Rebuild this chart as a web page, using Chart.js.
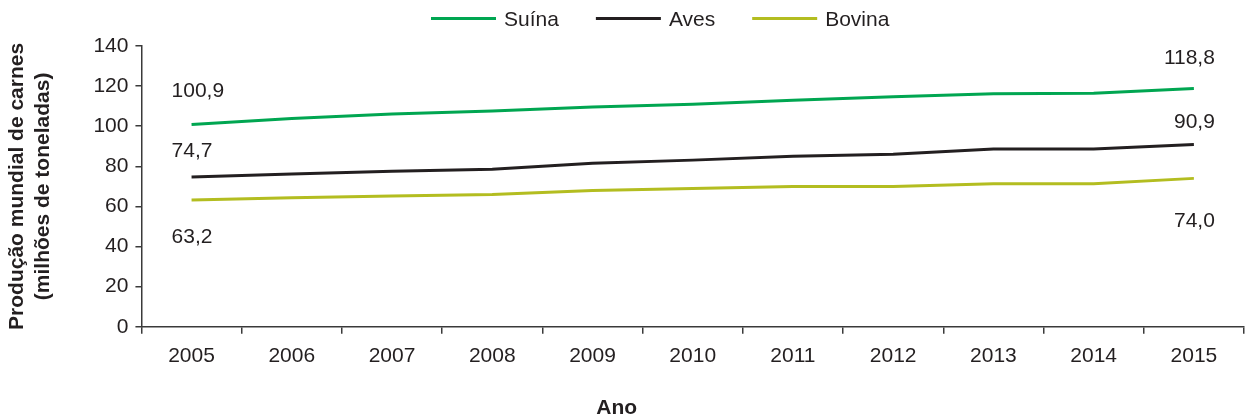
<!DOCTYPE html>
<html>
<head>
<meta charset="utf-8">
<script src="https://cdn.jsdelivr.net/npm/chart.js@4.4.1/dist/chart.umd.min.js"></script>
<style>
  html, body { margin: 0; padding: 0; background: #fff; }
  #wrap { width: 1246px; height: 418px; position: relative; }
</style>
</head>
<body>
<div id="wrap"><canvas id="chart"></canvas></div>
<script>
const anos = ['2005', '2006', '2007', '2008', '2009', '2010', '2011', '2012', '2013', '2014', '2015'];
const suina = [100.9, 103.9, 106.1, 107.6, 109.6, 110.9, 112.9, 114.7, 116.2, 116.4, 118.8];
const aves = [74.7, 76.2, 77.5, 78.5, 81.6, 83.1, 85.0, 86.0, 88.6, 88.6, 90.9];
const bovina = [63.2, 64.3, 65.2, 66.0, 68.0, 69.0, 70.0, 70.0, 71.3, 71.3, 74.0];
const yTicks = [0, 20, 40, 60, 80, 100, 120, 140];

const FONT = '"Liberation Sans", Arial, Helvetica, sans-serif';
const TXT = '#231f20';
const AXIS = '#3a3a3a';

// rótulos no primeiro e último ponto de cada série
const endLabels = {
  id: 'endLabels',
  afterDatasetsDraw(chart, args, opts) {
    const ctx = chart.ctx;
    ctx.save();
    ctx.font = '21px ' + FONT;
    ctx.fillStyle = TXT;
    ctx.textBaseline = 'middle';
    chart.data.datasets.forEach((ds, i) => {
      const pts = chart.getDatasetMeta(i).data;
      const fmt = v => v.toFixed(1).replace('.', ',');
      const first = pts[0], last = pts[pts.length - 1];
      ctx.textAlign = 'left';
      ctx.fillText(fmt(ds.data[0]), first.x + opts.dxFirst, first.y + opts.dyFirst[i]);
      ctx.textAlign = 'right';
      ctx.fillText(fmt(ds.data[ds.data.length - 1]), last.x + opts.dxLast, last.y + opts.dyLast[i]);
    });
    ctx.restore();
  }
};

// legenda desenhada à mão (espaçamento como no original)
const lineLegend = {
  id: 'lineLegend',
  afterDraw(chart, args, opts) {
    const ctx = chart.ctx;
    ctx.save();
    ctx.font = '21px ' + FONT;
    ctx.textBaseline = 'middle';
    ctx.textAlign = 'left';
    let x = opts.x;
    chart.data.datasets.forEach(ds => {
      ctx.strokeStyle = ds.borderColor;
      ctx.lineWidth = 3;
      ctx.beginPath();
      ctx.moveTo(x, opts.y - 1.5);
      ctx.lineTo(x + opts.lineLength, opts.y - 1.5);
      ctx.stroke();
      x += opts.lineLength + opts.gap;
      ctx.fillStyle = TXT;
      ctx.fillText(ds.label, x, opts.y);
      x += ctx.measureText(ds.label).width + opts.spacing;
    });
    ctx.restore();
  }
};

const xTitle = {
  id: 'xTitle',
  afterDraw(chart, args, opts) {
    const ctx = chart.ctx;
    const sx = chart.scales.x;
    ctx.save();
    ctx.font = 'bold 21px ' + FONT;
    ctx.fillStyle = TXT;
    ctx.textAlign = 'center';
    ctx.textBaseline = 'middle';
    ctx.fillText(opts.text, (sx.left + sx.right) / 2 + opts.dx, sx.bottom + opts.dy);
    ctx.restore();
  }
};

const ctx = document.getElementById('chart').getContext('2d');
new Chart(ctx, {
  type: 'line',
  data: {
    labels: anos,
    datasets: [
      { label: 'Suína', data: suina, borderColor: '#00a651', backgroundColor: '#00a651' },
      { label: 'Aves', data: aves, borderColor: '#231f20', backgroundColor: '#231f20' },
      { label: 'Bovina', data: bovina, borderColor: '#b3bd20', backgroundColor: '#b3bd20' }
    ]
  },
  options: {
    responsive: true,
    maintainAspectRatio: false,
    animation: false,
    devicePixelRatio: 1,
    layout: { padding: { top: 46, right: 2, bottom: 39, left: 0 } },
    elements: {
      line: { borderWidth: 3, tension: 0, fill: false },
      point: { radius: 0, hoverRadius: 0 }
    },
    plugins: {
      legend: { display: false },
      tooltip: { enabled: false },
      endLabels: { dxFirst: -20, dxLast: 21, dyFirst: [-33, -26, 37], dyLast: [-30, -22, 43] },
      lineLegend: { x: 431, y: 20, lineLength: 65, gap: 8, spacing: 37 },
      xTitle: { text: 'Ano', dx: -76, dy: 29 }
    },
    scales: {
      x: {
        offset: true,
        grid: { display: true, drawOnChartArea: false, offset: true, tickLength: 7, color: AXIS, lineWidth: 1.5 },
        border: { display: true, color: AXIS, width: 1.5 },
        ticks: { color: TXT, font: { family: FONT, size: 21 }, padding: 10, maxRotation: 0 }
      },
      y: {
        min: 0,
        max: 140,
        afterBuildTicks: axis => { axis.ticks = yTicks.map(v => ({ value: v })); },
        grid: { display: true, drawOnChartArea: false, tickLength: 6, color: AXIS, lineWidth: 1.5 },
        border: { display: true, color: AXIS, width: 1.5 },
        ticks: { color: TXT, font: { family: FONT, size: 21 }, padding: 7 },
        title: {
          display: true,
          text: ['Produção mundial de carnes', '(milhões de toneladas)'],
          color: TXT,
          font: { family: FONT, size: 21, weight: 'bold' },
          padding: { top: 5, bottom: 31 }
        }
      }
    }
  },
  plugins: [endLabels, lineLegend, xTitle]
});
</script>
</body>
</html>
